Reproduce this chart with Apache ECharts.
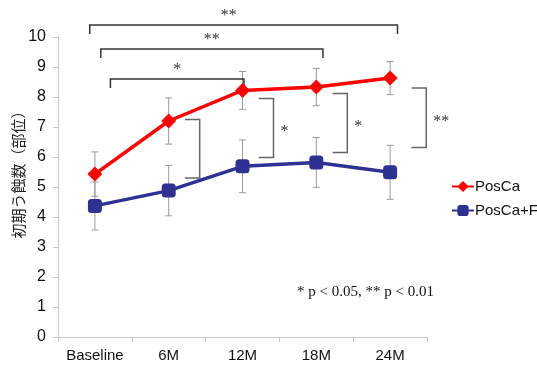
<!DOCTYPE html>
<html>
<head>
<meta charset="utf-8">
<script src="https://cdn.jsdelivr.net/npm/echarts@6/dist/echarts.min.js"></script>
<style>
html, body { margin: 0; padding: 0; background: #fff; }
#chart { width: 537px; height: 365px; }
</style>
</head>
<body>
<div id="chart"></div>
<script>
var categories = ['Baseline', '6M', '12M', '18M', '24M'];
var poscaMean = [5.43, 7.2, 8.22, 8.33, 8.63];
var poscaSd = [0.74, 0.77, 0.63, 0.62, 0.55];
var poscaFMean = [4.37, 4.88, 5.69, 5.82, 5.49];
var poscaFSd = [0.8, 0.84, 0.88, 0.83, 0.9];

// PosCa vs Baseline (top brackets)
var trendFrom = [0, 0, 0];
var trendTo = [2, 3, 4];
var trendLevel = [8.6, 9.6, 10.4];
var trendLabel = ['*', '**', '**'];

// PosCa vs PosCa+F at each time point (side brackets)
var pairIdx = [1, 2, 3, 4];
var pairTop = [7.25, 7.95, 8.12, 8.3];
var pairBottom = [5.3, 5.98, 6.15, 6.32];
var pairLabel = ['', '*', '*', '**'];

var RED = '#FF0000';
var BLUE = '#2E3192';

var myChart = echarts.init(document.getElementById('chart'));

function errorData(mean, sd) {
	return mean.map(function (m, i) { return [i, m - sd[i], m + sd[i]]; });
}

function renderError(params, api) {
	var lo = api.coord([api.value(0), api.value(1)]);
	var hi = api.coord([api.value(0), api.value(2)]);
	var w = 3.5;
	var st = { stroke: '#9a9a9a', lineWidth: 1 };
	return {
		type: 'group',
		children: [
			{ type: 'line', shape: { x1: lo[0], y1: lo[1], x2: hi[0], y2: hi[1] }, style: st },
			{ type: 'line', shape: { x1: lo[0] - w, y1: lo[1], x2: lo[0] + w, y2: lo[1] }, style: st },
			{ type: 'line', shape: { x1: hi[0] - w, y1: hi[1], x2: hi[0] + w, y2: hi[1] }, style: st }
		]
	};
}

// band offsets for the nested top brackets
var trendLeftOff = [0.21, 0.08, -0.07];
var trendRightOff = [0.02, 0.09, 0.1];
var trendTextOff = [0, 0, -0.2];

function renderTrend(params, api) {
	var k = params.dataIndex;
	var bw = api.size([1, 0])[0];
	var p1 = api.coord([api.value(0), api.value(2)]);
	var p2 = api.coord([api.value(1), api.value(2)]);
	var x1 = p1[0] + trendLeftOff[k] * bw;
	var x2 = p2[0] + trendRightOff[k] * bw;
	var y = p1[1];
	var foot = 9;
	return {
		type: 'group',
		children: [
			{ type: 'polyline', shape: { points: [[x1, y + foot], [x1, y], [x2, y], [x2, y + foot]] },
			  style: { stroke: '#333', lineWidth: 1.5, fill: null } },
			{ type: 'text', x: (x1 + x2) / 2 + trendTextOff[k] * bw, y: y - 1,
			  style: { text: trendLabel[k], align: 'center', verticalAlign: 'bottom',
			           fill: '#333', font: '16px "Liberation Serif"' } }
		]
	};
}

var pairLeftOff = [0.22, 0.22, 0.22, 0.29];
var pairWidth = 0.2;

function renderPair(params, api) {
	var k = params.dataIndex;
	var bw = api.size([1, 0])[0];
	var top = api.coord([api.value(0), api.value(1)]);
	var bot = api.coord([api.value(0), api.value(2)]);
	var x1 = top[0] + pairLeftOff[k] * bw;
	var x2 = x1 + pairWidth * bw;
	return {
		type: 'group',
		children: [
			{ type: 'polyline', shape: { points: [[x1, top[1]], [x2, top[1]], [x2, bot[1]], [x1, bot[1]]] },
			  style: { stroke: '#666', lineWidth: 1.5, fill: null } },
			{ type: 'text', x: x2 + 7, y: (top[1] + bot[1]) / 2 + 4,
			  style: { text: pairLabel[k], align: 'left', verticalAlign: 'middle',
			           fill: '#333', font: '16px "Liberation Serif"' } }
		]
	};
}

var option = {
	animation: false,
	grid: { left: 58, right: 110, top: 37, bottom: 28, outerBoundsMode: 'none' },
	legend: {
		orient: 'vertical',
		left: 446,
		top: 174,
		itemWidth: 22,
		itemHeight: 14,
		itemGap: 9,
		data: ['PosCa', 'PosCa+F'],
		textStyle: { fontFamily: 'Liberation Sans', fontSize: 15, color: '#111', padding: [0, 0, 0, -4] }
	},
	xAxis: {
		type: 'category',
		data: categories,
		axisLine: { lineStyle: { color: '#c8c8c8' } },
		axisTick: { show: true, length: 5, lineStyle: { color: '#c8c8c8' } },
		axisLabel: { interval: 0, fontFamily: 'Liberation Sans', fontSize: 15, color: '#111', margin: 11 }
	},
	yAxis: {
		type: 'value',
		min: 0,
		max: 10,
		interval: 1,
		name: '初期う蝕数（部位）',
		nameLocation: 'middle',
		nameGap: 32,
		nameMoveOverlap: false,
		nameTextStyle: { fontFamily: 'Noto Sans CJK JP', fontSize: 15, color: '#222', padding: [0, 0, 0, 32] },
		axisLine: { show: true, lineStyle: { color: '#c8c8c8' } },
		axisTick: { show: true, length: 5, lineStyle: { color: '#c8c8c8' } },
		splitLine: { show: false },
		axisLabel: { fontFamily: 'Liberation Sans', fontSize: 16, color: '#111', margin: 12 }
	},
	graphic: [{
		type: 'text',
		left: 297,
		top: 285,
		style: { text: '* p < 0.05, ** p < 0.01', font: '15px "Liberation Serif"', fill: '#111' }
	}],
	series: [
		{
			type: 'custom', name: 'errA', z: 1, silent: true,
			renderItem: renderError, encode: { x: 0, y: [1, 2] },
			data: errorData(poscaMean, poscaSd)
		},
		{
			type: 'custom', name: 'errB', z: 1, silent: true,
			renderItem: renderError, encode: { x: 0, y: [1, 2] },
			data: errorData(poscaFMean, poscaFSd)
		},
		{
			name: 'PosCa',
			type: 'line',
			z: 3,
			data: poscaMean,
			symbol: 'diamond',
			symbolSize: 15,
			color: RED,
			lineStyle: { color: RED, width: 3.5 },
			itemStyle: { color: RED }
		},
		{
			name: 'PosCa+F',
			type: 'line',
			z: 3,
			data: poscaFMean,
			symbol: 'roundRect',
			symbolSize: 14,
			color: BLUE,
			lineStyle: { color: BLUE, width: 3.5 },
			itemStyle: { color: BLUE }
		},
		{
			type: 'custom', name: 'trend', z: 2, silent: true,
			renderItem: renderTrend, encode: { x: 0, y: 2 },
			data: trendFrom.map(function (f, i) { return [f, trendTo[i], trendLevel[i]]; })
		},
		{
			type: 'custom', name: 'pair', z: 2, silent: true,
			renderItem: renderPair, encode: { x: 0, y: [1, 2] },
			data: pairIdx.map(function (c, i) { return [c, pairTop[i], pairBottom[i]]; })
		}
	]
};

myChart.setOption(option);
</script>
</body>
</html>
